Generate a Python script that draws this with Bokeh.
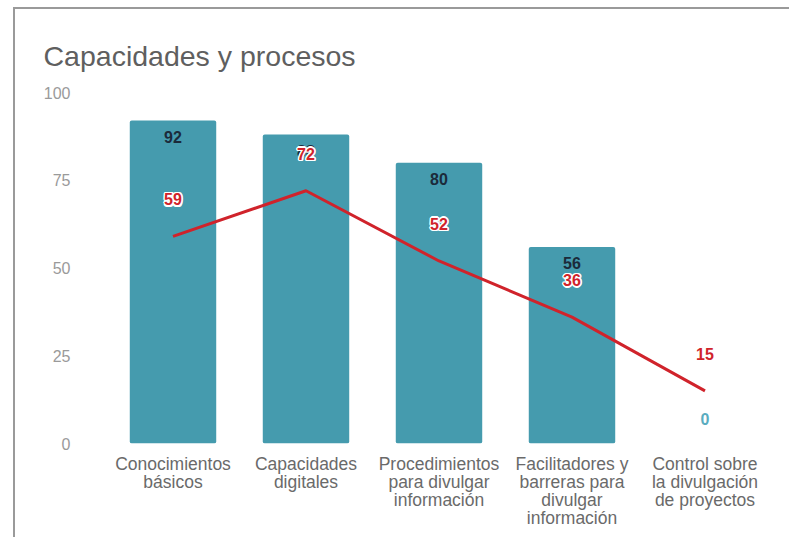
from bokeh.plotting import figure
from bokeh.models import ColumnDataSource, FactorRange, Range1d, FixedTicker
from bokeh.core.properties import value
from bokeh.embed import file_html
from bokeh.resources import INLINE

title_text = "Capacidades y procesos"
categories = [
    "Conocimientos\nbásicos",
    "Capacidades\ndigitales",
    "Procedimientos\npara divulgar\ninformación",
    "Facilitadores y\nbarreras para\ndivulgar\ninformación",
    "Control sobre\nla divulgación\nde proyectos",
]
bar_values = [92, 88, 80, 56, 0]
line_values = [59, 72, 52, 36, 15]
y_ticks = [0, 25, 50, 75, 100]

BAR = "#459bae"
RED = "#d0232b"
FONT = "Liberation Sans"

W, H = 776, 530
p = figure(
    width=W, height=H,
    x_range=FactorRange(factors=categories, range_padding=0),
    y_range=Range1d(0, 100),
    output_backend="svg", toolbar_location=None,
    min_border_left=91, min_border_right=20,
    min_border_top=83, min_border_bottom=96,
)
p.margin = (7, 0, 0, 13)
p.styles = {"border-left": "2px solid #9a9a9a", "border-top": "2px solid #9a9a9a"}
p.outline_line_color = None
p.grid.grid_line_color = None
p.background_fill_color = "white"
p.border_fill_color = "white"

p.title.text = title_text
p.title.align = "left"
p.title.offset = -63
p.title.standoff = 41
p.title.text_font = FONT
p.title.text_font_size = "28.5px"
p.title.text_font_style = "normal"
p.title.text_color = "#5f5f5f"

src = ColumnDataSource(dict(
    cat=categories,
    bar=bar_values,
    line=line_values,
    bar_txt=[str(v) for v in bar_values],
    line_txt=[str(v) for v in line_values],
    bar_off=[16 if v > 0 else -25 for v in bar_values],
    bar_col=["#1b2a3a" if v > 0 else "#5aacbf" for v in bar_values],
))

p.vbar(x="cat", top="bar", width=0.65, source=src, fill_color=BAR,
       line_color=None, border_radius=2)
p.line(x="cat", y="line", source=src, line_color=RED, line_width=3)

p.text(x="cat", y="bar", text="bar_txt", source=src, y_offset="bar_off",
       text_color="bar_col", text_font=value(FONT), text_font_size="16px",
       text_font_style="bold", text_align="center", text_baseline="middle")

# white halo behind the red line labels
for dx, dy in [(-1.5, 0), (1.5, 0), (0, -1.5), (0, 1.5),
               (-1.2, -1.2), (1.2, -1.2), (-1.2, 1.2), (1.2, 1.2)]:
    p.text(x="cat", y="line", text="line_txt", source=src,
           x_offset=dx, y_offset=-37 + dy,
           text_color="white", text_font=value(FONT), text_font_size="16px",
           text_font_style="bold", text_align="center", text_baseline="middle")
p.text(x="cat", y="line", text="line_txt", source=src, y_offset=-37,
       text_color=RED, text_font=value(FONT), text_font_size="16px",
       text_font_style="bold", text_align="center", text_baseline="middle")

p.yaxis.ticker = FixedTicker(ticks=y_ticks)
p.yaxis.axis_line_color = None
p.yaxis.major_tick_line_color = None
p.yaxis.minor_tick_line_color = None
p.yaxis.major_label_standoff = 30
p.yaxis.major_label_text_color = "#9a9a9a"
p.yaxis.major_label_text_font = FONT
p.yaxis.major_label_text_font_size = "16px"

p.xaxis.axis_line_color = None
p.xaxis.major_tick_line_color = None
p.xaxis.minor_tick_line_color = None
p.xaxis.major_label_standoff = 4
p.xaxis.major_label_text_color = "#6a6a6a"
p.xaxis.major_label_text_font = FONT
p.xaxis.major_label_text_font_size = "17.5px"
p.xaxis.major_label_text_line_height = 0.9

open("out.html", "w").write(file_html(p, INLINE))
